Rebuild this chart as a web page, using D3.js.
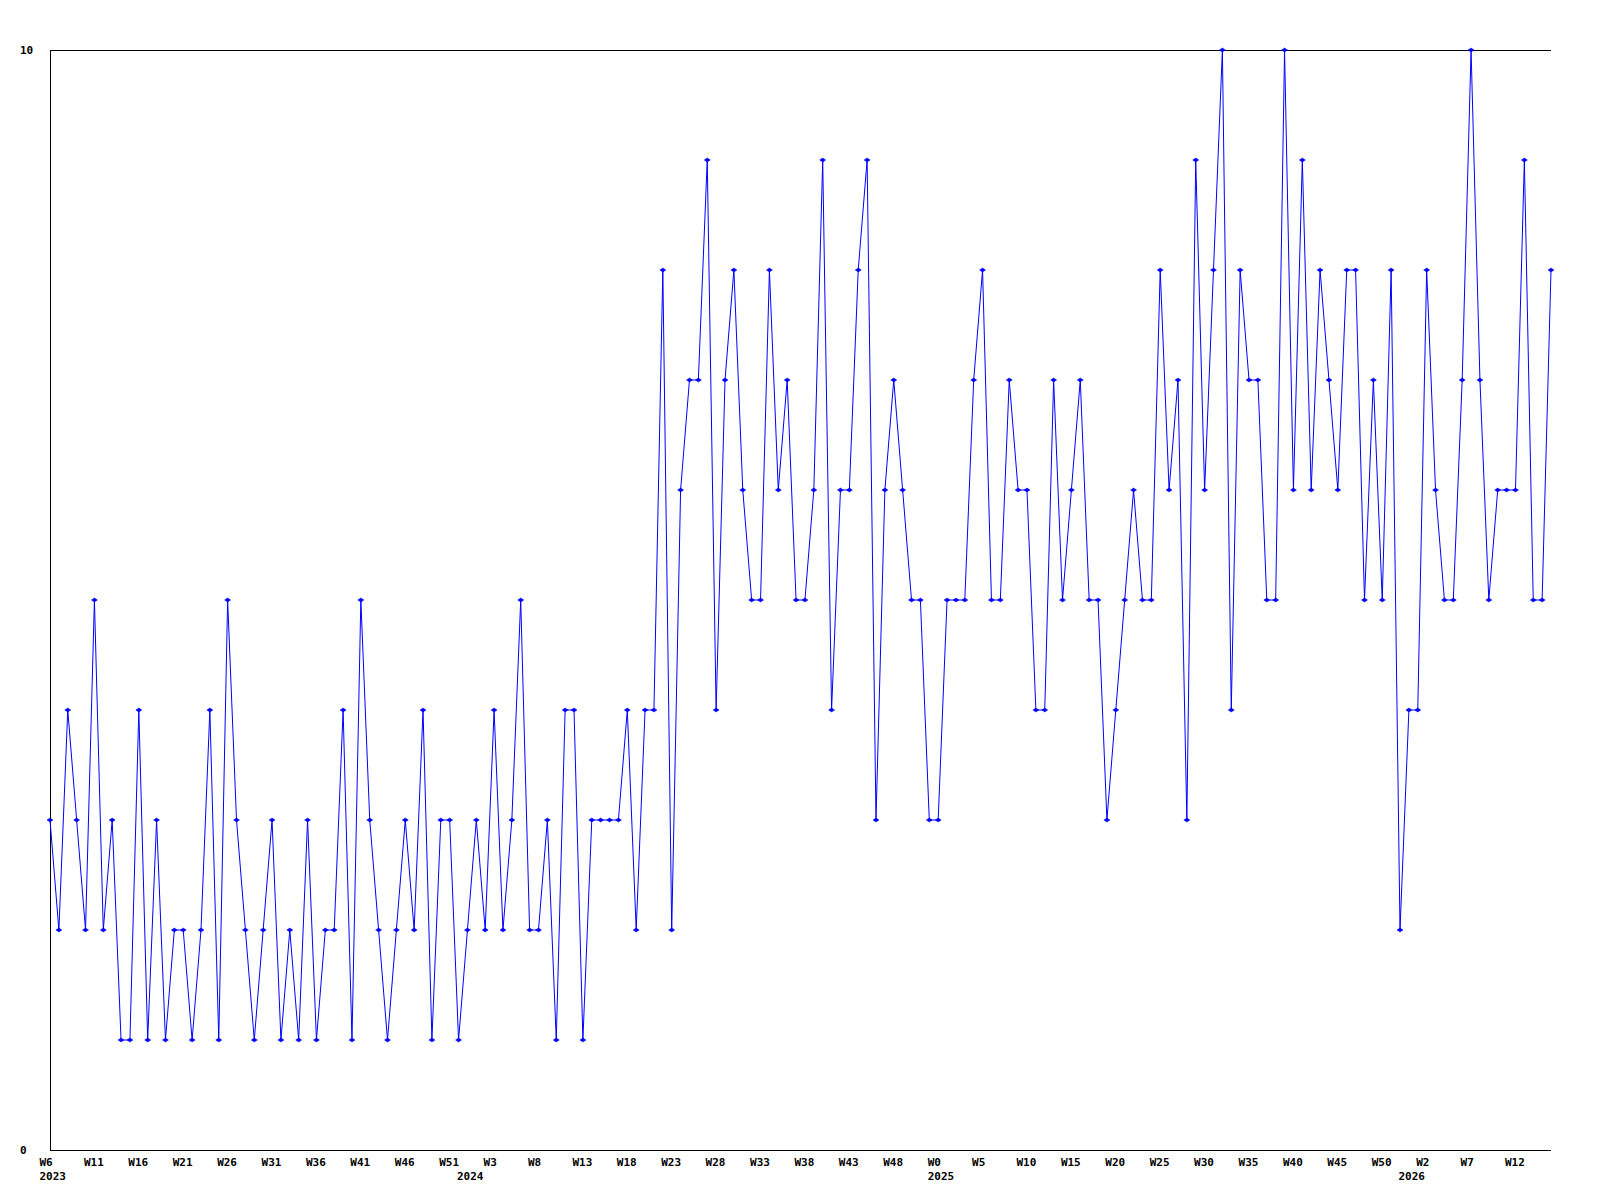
<!DOCTYPE html>
<html lang="en">
<head>
    <meta charset="UTF-8">
    <title>Weekly count</title>
    <script src="https://d3js.org/d3.v7.min.js"></script>
    <style>
        body { margin: 0; background: #fff; }
        text { font-family: "DejaVu Sans Mono", monospace; font-weight: bold; font-size: 11px; fill: #000; }
    </style>
</head>
<body>
<div id="chart"></div>
<script type="text/javascript">

    // weekly values, W6 2023 .. W15 2026
    var values = [
        3, 2, 4, 3, 2, 5, 2, 3, 1, 1,
        4, 1, 3, 1, 2, 2, 1, 2, 4, 1,
        5, 3, 2, 1, 2, 3, 1, 2, 1, 3,
        1, 2, 2, 4, 1, 5, 3, 2, 1, 2,
        3, 2, 4, 1, 3, 3, 1, 2, 3, 2,
        4, 2, 3, 5, 2, 2, 3, 1, 4, 4,
        1, 3, 3, 3, 3, 4, 2, 4, 4, 8,
        2, 6, 7, 7, 9, 4, 7, 8, 6, 5,
        5, 8, 6, 7, 5, 5, 6, 9, 4, 6,
        6, 8, 9, 3, 6, 7, 6, 5, 5, 3,
        3, 5, 5, 5, 7, 8, 5, 5, 7, 6,
        6, 4, 4, 7, 5, 6, 7, 5, 5, 3,
        4, 5, 6, 5, 5, 8, 6, 7, 3, 9,
        6, 8, 10, 4, 8, 7, 7, 5, 5, 10,
        6, 9, 6, 8, 7, 6, 8, 8, 5, 7,
        5, 8, 2, 4, 4, 8, 6, 5, 5, 7,
        10, 7, 5, 6, 6, 6, 9, 5, 5, 8
    ];

    // a label on every 5th week
    var weekLabels = ["W6", "W11", "W16", "W21", "W26", "W31", "W36", "W41", "W46", "W51",
        "W3", "W8", "W13", "W18", "W23", "W28", "W33", "W38", "W43", "W48",
        "W0", "W5", "W10", "W15", "W20", "W25", "W30", "W35", "W40", "W45",
        "W50", "W2", "W7", "W12"];
    var labelStep = 5;

    // first week of each year
    var years = ["2023", "2024", "2025", "2026"];
    var yearStart = [0, 47, 100, 153];

    var yTicks = [0, 10];

    var width = 1600;
    var height = 1200;
    var padLeft = 50, padRight = 1551, padTop = 50, padBottom = 1150;

    var x = d3.scaleLinear().domain([0, values.length - 1]).range([padLeft, padRight]);
    var y = d3.scaleLinear().domain([0, 10]).range([padBottom, padTop]);

    var svg = d3.select("#chart")
        .append("svg")
        .attr("width", width)
        .attr("height", height);

    // frame: left, top and bottom lines
    var frame = svg.append("g").attr("stroke", "#000").attr("stroke-width", 1).attr("shape-rendering", "crispEdges");
    frame.append("line").attr("x1", padLeft).attr("x2", padLeft).attr("y1", padTop).attr("y2", padBottom);
    frame.append("line").attr("x1", padLeft).attr("x2", padRight).attr("y1", padTop).attr("y2", padTop);
    frame.append("line").attr("x1", padLeft).attr("x2", padRight).attr("y1", padBottom).attr("y2", padBottom);

    // y labels
    svg.selectAll(".ylab")
        .data(yTicks)
        .enter()
        .append("text")
        .attr("class", "ylab")
        .attr("x", 20)
        .attr("y", function(d) { return y(d) + 4; })
        .text(function(d) { return d; });

    // week labels
    svg.selectAll(".wlab")
        .data(weekLabels)
        .enter()
        .append("text")
        .attr("class", "wlab")
        .attr("x", function(d, i) { return x(i * labelStep) - 10.5; })
        .attr("y", padBottom + 16)
        .text(function(d) { return d; });

    // year labels
    svg.selectAll(".yrlab")
        .data(years)
        .enter()
        .append("text")
        .attr("class", "yrlab")
        .attr("x", function(d, i) { return x(yearStart[i]) - 10.5; })
        .attr("y", padBottom + 30)
        .text(function(d) { return d; });

    // the series line
    var line = d3.line()
        .x(function(d, i) { return x(i); })
        .y(function(d) { return y(d); });

    svg.append("path")
        .datum(values)
        .attr("d", line)
        .attr("fill", "none")
        .attr("stroke", "#0000ff")
        .attr("stroke-width", 1);

    // small diamond markers
    svg.selectAll(".pt")
        .data(values)
        .enter()
        .append("path")
        .attr("class", "pt")
        .attr("d", function(d, i) {
            var px = x(i), py = y(d);
            return "M" + (px - 3) + "," + py + "L" + px + "," + (py - 2) +
                "L" + (px + 3) + "," + py + "L" + px + "," + (py + 2) + "Z";
        })
        .attr("fill", "#0000ff")
        .attr("stroke", "#0000ff")
        .attr("stroke-width", 0.5);

</script>
</body>
</html>
